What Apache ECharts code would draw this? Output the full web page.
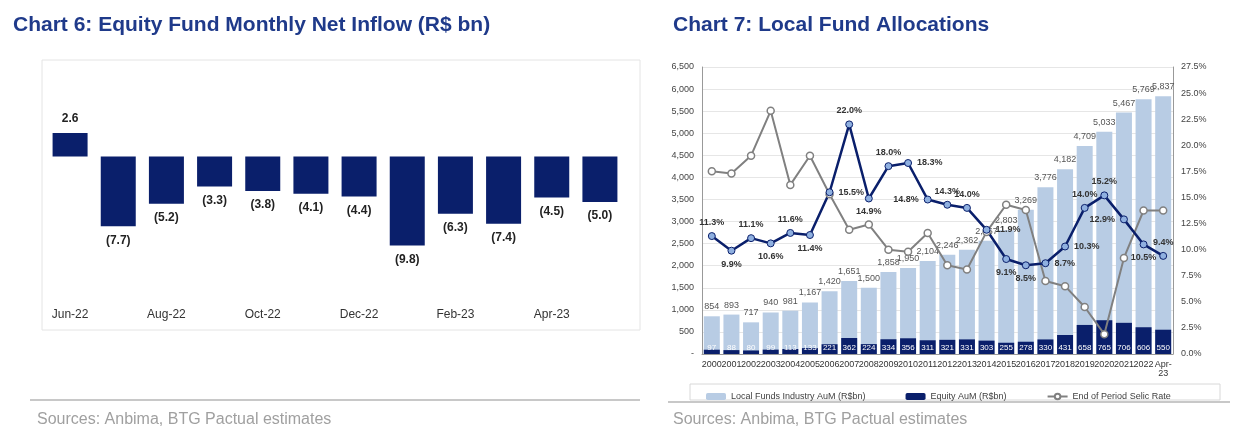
<!DOCTYPE html>
<html><head><meta charset="utf-8">
<script src="https://cdn.jsdelivr.net/npm/echarts@6/dist/echarts.min.js"></script>
<style>html,body{margin:0;padding:0;background:#fff}#main{width:1236px;height:438px}</style>
</head><body><div id="main"></div>
<script>
// Chart 6 data
var months = ['Jun-22','Jul-22','Aug-22','Sep-22','Oct-22','Nov-22','Dec-22','Jan-23','Feb-23','Mar-23','Apr-23','May-23'];
var inflow = [2.6,-7.7,-5.2,-3.3,-3.8,-4.1,-4.4,-9.8,-6.3,-7.4,-4.5,-5.0];
// Chart 7 data
var years = ['2000','2001','2002','2003','2004','2005','2006','2007','2008','2009','2010','2011','2012','2013','2014','2015','2016','2017','2018','2019','2020','2021','2022','Apr-\n23'];
var aum = [854,893,717,940,981,1167,1420,1651,1500,1858,1950,2104,2246,2362,2567,2803,3269,3776,4182,4709,5033,5467,5769,5837];
var equityAum = [97,88,80,99,113,133,221,362,224,334,356,311,321,331,303,255,278,330,431,658,765,706,606,550];
var selic = [17.5,17.3,19.0,23.3,16.2,19.0,15.3,11.9,12.4,10.0,9.8,11.6,8.5,8.1,11.7,14.3,13.8,7.0,6.5,4.5,1.9,9.2,13.75,13.75];
var equityShare = [11.3,9.9,11.1,10.6,11.6,11.4,15.5,22.0,14.9,18.0,18.3,14.8,14.3,14.0,11.9,9.1,8.5,8.7,10.3,14.0,15.2,12.9,10.5,9.4];
var sharePos = ['top','bottom','top','bottom','top','bottom','right','top','bottom','top','right','left','top','top','right','bottom','bottom','right','right','top','top','left','bottom','top'];

var navy = '#0a1f6b', light = '#b8cce4', grey = '#808080';
var chart = echarts.init(document.getElementById('main'));
function fmt(v){return v.toFixed(1);}
chart.setOption({
  animation:false,
  textStyle:{fontFamily:'Arial, Liberation Sans, sans-serif'},
  title:[
    {text:'Chart 6: Equity Fund Monthly Net Inflow (R$ bn)',left:8,top:10,textStyle:{color:'#1f3a8a',fontSize:21,fontWeight:'bold'}},
    {text:'Chart 7: Local Fund Allocations',left:668,top:10,textStyle:{color:'#1f3a8a',fontSize:21,fontWeight:'bold'}},
    {text:'Sources: Anbima, BTG Pactual estimates',left:32,top:407,textStyle:{color:'#a0a0a0',fontSize:16,fontWeight:'normal'}},
    {text:'Sources: Anbima, BTG Pactual estimates',left:668,top:407,textStyle:{color:'#a0a0a0',fontSize:16,fontWeight:'normal'}}
  ],
  graphic:[
    {type:'rect',shape:{x:42,y:60,width:598,height:270},style:{fill:'none',stroke:'#e4e4e4',lineWidth:1}},
    {type:'line',shape:{x1:30,y1:400,x2:640,y2:400},style:{stroke:'#c8c8c8',lineWidth:2}},
    {type:'line',shape:{x1:668,y1:402,x2:1230,y2:402},style:{stroke:'#c8c8c8',lineWidth:2}},
    {type:'rect',shape:{x:690,y:384,width:530,height:16},style:{fill:'none',stroke:'#d8d8d8',lineWidth:1}}
  ],
  legend:{left:700,top:387,itemHeight:7,itemWidth:20,itemGap:40,textStyle:{fontSize:9,color:'#404040'},
    data:['Local Funds Industry AuM (R$bn)','Equity AuM (R$bn)','End of Period Selic Rate','Equity Share']},
  grid:[
    {left:46,top:57,width:578,height:240},
    {left:702,top:67,width:471,height:287}
  ],
  xAxis:[
    {type:'category',gridIndex:0,data:months,position:'bottom',offset:0,
     axisLine:{show:false},axisTick:{show:false},axisLabel:{color:'#333',fontSize:12,margin:12}},
    {type:'category',gridIndex:1,data:years,axisLine:{lineStyle:{color:'#999'}},axisTick:{show:false},
     axisLabel:{color:'#333',fontSize:9,interval:0,margin:6}}
  ],
  yAxis:[
    {type:'value',gridIndex:0,min:-15.5,max:11,show:false,splitLine:{show:false}},
    {type:'value',gridIndex:1,min:0,max:6500,interval:500,
     axisLine:{show:true,lineStyle:{color:'#999'}},axisTick:{show:false},
     axisLabel:{fontSize:9,color:'#444',formatter:function(v){return v===0?'-':v.toLocaleString('en-US');}},
     splitLine:{lineStyle:{color:'#e6e6e6'}}},
    {type:'value',gridIndex:1,min:0,max:27.5,interval:2.5,position:'right',
     axisLine:{show:true,lineStyle:{color:'#999'}},axisTick:{show:false},
     axisLabel:{fontSize:9,color:'#444',formatter:function(v){return v.toFixed(1)+'%';}},
     splitLine:{show:false}}
  ],
  series:[
    {type:'bar',xAxisIndex:0,yAxisIndex:0,data:inflow,barWidth:35,itemStyle:{color:navy},
     label:{show:true,fontSize:12,fontWeight:'bold',color:'#222',distance:8,
       position:'top',formatter:function(p){return p.value<0?'('+fmt(-p.value)+')':fmt(p.value);}},
     labelLayout:function(p){return {};},
     encode:{}},
    {name:'Local Funds Industry AuM (R$bn)',type:'bar',xAxisIndex:1,yAxisIndex:1,data:aum,barWidth:16,barGap:'-100%',
     itemStyle:{color:light},label:{show:true,position:'top',fontSize:9,color:'#555',
       formatter:function(p){return p.value.toLocaleString('en-US');}}},
    {name:'Equity AuM (R$bn)',type:'bar',xAxisIndex:1,yAxisIndex:1,data:equityAum,barWidth:16,
     itemStyle:{color:navy},label:{show:true,position:'insideBottom',fontSize:8,color:'#fff',distance:2}},
    {name:'End of Period Selic Rate',type:'line',xAxisIndex:1,yAxisIndex:2,data:selic,symbol:'circle',symbolSize:7,
     lineStyle:{color:grey,width:2},itemStyle:{color:'#fff',borderColor:grey,borderWidth:1.5}},
    {name:'Equity Share',type:'line',xAxisIndex:1,yAxisIndex:2,data:equityShare.map(function(v,i){
        return {value:v,label:{position:sharePos[i]}};}),symbol:'circle',symbolSize:7,
     lineStyle:{color:navy,width:2.5},itemStyle:{color:'#8fb0e0',borderColor:navy,borderWidth:1},
     label:{show:true,fontSize:9,fontWeight:'bold',color:'#333',formatter:function(p){return p.value.toFixed(1)+'%';}}}
  ]
});
// negative bars in chart 6 get their label below
chart.setOption({series:[{data:inflow.map(function(v){return {value:v,label:{position:v<0?'bottom':'top'}};})}]});
</script></body></html>
